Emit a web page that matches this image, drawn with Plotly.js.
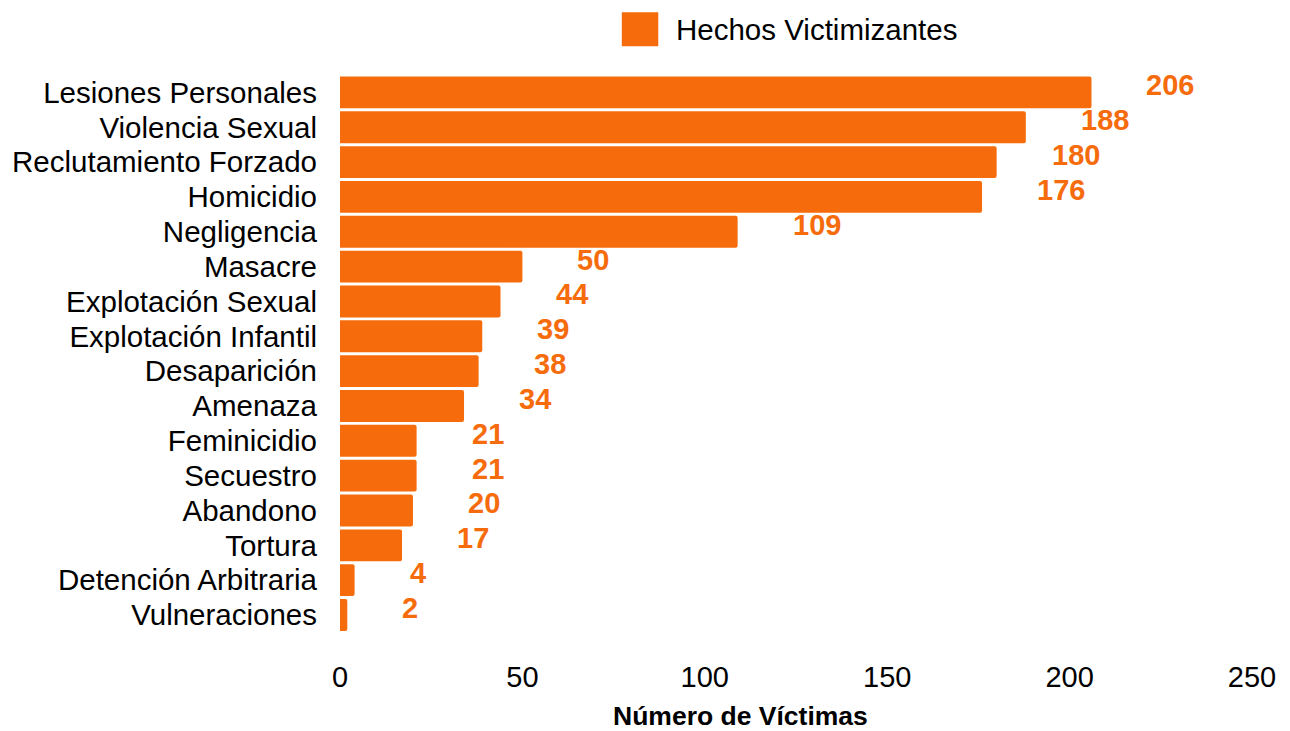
<!DOCTYPE html>
<html>
<head>
<meta charset="utf-8">
<script src="https://cdn.plot.ly/plotly-3.0.1.min.js"></script>
<style>
  html, body { margin: 0; padding: 0; background: #ffffff; }
  #chart { width: 1290px; height: 731px; }
</style>
</head>
<body>
<div id="chart"></div>
<script>
// Victimizing events, number of victims per category
const categories = [
  "Lesiones Personales",
  "Violencia Sexual",
  "Reclutamiento Forzado",
  "Homicidio",
  "Negligencia",
  "Masacre",
  "Explotación Sexual",
  "Explotación Infantil",
  "Desaparición",
  "Amenaza",
  "Feminicidio",
  "Secuestro",
  "Abandono",
  "Tortura",
  "Detención Arbitraria",
  "Vulneraciones"
];
const victims = [206, 188, 180, 176, 109, 50, 44, 39, 38, 34, 21, 21, 20, 17, 4, 2];
const seriesName = "Hechos Victimizantes";
const xTicks = [0, 50, 100, 150, 200, 250];
const xTitle = "Número de Víctimas";

const ORANGE = "#F66C0D";
const FONT = "Liberation Sans, Arial, sans-serif";

const trace = {
  type: "bar",
  orientation: "h",
  name: seriesName,
  x: victims,
  y: categories,
  marker: { color: ORANGE, cornerradius: 2, line: { width: 0 } },
  showlegend: false,
  hoverinfo: "x+y"
};

// value labels sit to the right of each bar end
const valueLabels = victims.map((v, i) => ({
  x: v,
  y: categories[i],
  xref: "x",
  yref: "y",
  text: String(v),
  showarrow: false,
  xanchor: "left",
  yanchor: "middle",
  xshift: 53,
  yshift: 7,
  font: { family: FONT, size: 29, color: ORANGE, weight: "bold" }
}));

// legend entry: swatch + name
const legendText = {
  x: 0.366, y: 1.081, xref: "paper", yref: "paper",
  xanchor: "left", yanchor: "middle",
  text: seriesName, showarrow: false,
  font: { family: FONT, size: 29.5, color: "#000000" }
};

// x-axis title, set a little left of the plot centre
const axisTitle = {
  x: 0.4386, y: -0.1345, xref: "paper", yref: "paper",
  xanchor: "center", yanchor: "middle",
  text: xTitle, showarrow: false,
  font: { family: FONT, size: 26.5, color: "#000000", weight: "bold" }
};

const layout = {
  width: 1290,
  height: 731,
  paper_bgcolor: "#ffffff",
  plot_bgcolor: "#ffffff",
  margin: { l: 340, r: 38, t: 75, b: 91, pad: 0 },
  bargap: 0.085,
  font: { family: FONT, size: 29, color: "#000000" },
  xaxis: {
    range: [0, 250],
    tickmode: "array",
    tickvals: xTicks,
    ticktext: xTicks.map(String),
    showgrid: false,
    zeroline: false,
    showline: false,
    ticks: "",
    ticklabelstandoff: 17,
    tickfont: { family: FONT, size: 29, color: "#000000" },
    automargin: false,
    fixedrange: true
  },
  yaxis: {
    type: "category",
    autorange: "reversed",
    tickmode: "array",
    tickvals: categories,
    ticktext: categories,
    showgrid: false,
    zeroline: false,
    showline: false,
    ticks: "",
    ticklabelstandoff: 22,
    tickfont: { family: FONT, size: 29.5, color: "#000000" },
    automargin: false,
    fixedrange: true
  },
  shapes: [{
    type: "rect",
    xref: "paper", yref: "paper",
    x0: 0.309, x1: 0.349, y0: 1.051, y1: 1.111,
    fillcolor: ORANGE,
    line: { width: 0 }
  }],
  annotations: valueLabels.concat([legendText, axisTitle])
};

Plotly.newPlot("chart", [trace], layout, { displayModeBar: false, staticPlot: true });
</script>
</body>
</html>
